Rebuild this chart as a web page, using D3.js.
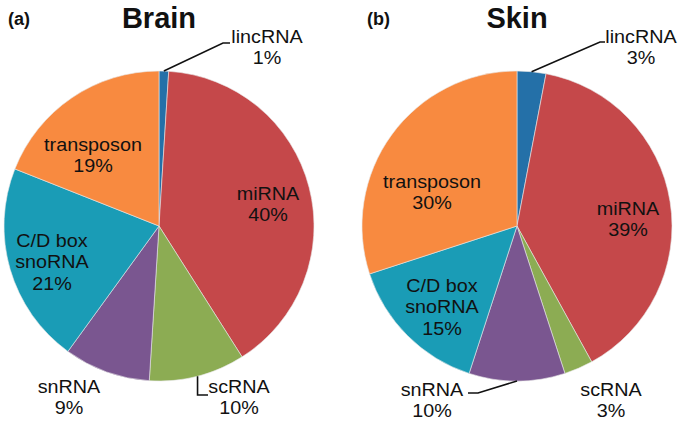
<!DOCTYPE html>
<html><head><meta charset="utf-8">
<script src="https://cdn.jsdelivr.net/npm/d3@7"></script>
<style>body{margin:0;background:#fff}svg{display:block}</style>
</head><body>
<svg id="c" width="683" height="422"></svg>
<script>
const categories = ["lincRNA","miRNA","scRNA","snRNA","C/D box snoRNA","transposon"];
const labelLines = [["lincRNA"],["miRNA"],["scRNA"],["snRNA"],["C/D box","snoRNA"],["transposon"]];
const brainValues = [1,40,10,9,21,19];
const skinValues = [3,39,3,10,15,30];
const colors = ["#2470a8","#c5484a","#8cac53","#7a5690","#1a9cb6","#f88a40"];

const svg = d3.select("#c");
const R = 155;
const sx = 1.13;

// layout: label positions (baseline of first line) relative to pie centre, and leader lines
const panels = [
  {tag:"(a)", tagX:8, title:"Brain", cx:159, cy:226, values:brainValues,
   labels:[[108,-183],[109,-26],[80,167],[-90,167],[-107,21],[-66,-75]],
   leaders:{0:[[64,-183],[71,-183]], 2:[[38,169],[49,169]]}},
  {tag:"(b)", tagX:367, title:"Skin", cx:517, cy:226, values:skinValues,
   labels:[[124,-183],[111,-11],[94,170],[-85,170],[-75,66],[-85,-38]],
   leaders:{0:[[83,-184],[88,-184]], 3:[[-39,167],[-49,167]]}}
];

const color = d3.scaleOrdinal().domain(categories).range(colors);

panels.forEach(p => {
  const g = svg.append("g").attr("transform",`translate(${p.cx},${p.cy})`);
  const pie = d3.pie().sort(null).value(d=>d.v);
  const arcs = pie(categories.map((c,i)=>({c, v:p.values[i], i})));
  const arc = d3.arc().innerRadius(0).outerRadius(R);
  g.selectAll("path").data(arcs).join("path")
    .attr("d",arc).attr("fill",d=>color(d.data.c))
    .attr("stroke","#e8e8e8").attr("stroke-width",0.6);

  arcs.forEach((a,i)=>{
    const [lx,ly] = p.labels[i];
    const lines = labelLines[i].concat([p.values[i]+"%"]);
    const t = g.append("text")
      .attr("transform",`translate(${lx},${ly}) scale(${sx},1)`)
      .attr("text-anchor","middle")
      .attr("font-family","Liberation Sans, Arial, sans-serif")
      .attr("font-size",17.5).attr("fill","#111");
    lines.forEach((l,k)=>t.append("tspan").attr("x",0).attr("dy",k?21.5:0).text(l));
    if (p.leaders[i]) {
      const mid = (a.startAngle+a.endAngle)/2;
      const s = [Math.sin(mid)*R, -Math.cos(mid)*R];
      const pts = [s].concat(p.leaders[i]);
      if (i===2 && p.title==="Brain") pts[1]=[s[0], pts[1][1]];
      g.append("path").attr("d",d3.line()(pts)).attr("fill","none")
        .attr("stroke","#111").attr("stroke-width",1.6);
    }
  });

  svg.append("text").attr("x",p.cx).attr("y",28).attr("text-anchor","middle")
    .attr("font-family","Liberation Sans, Arial, sans-serif").attr("font-weight","bold")
    .attr("font-size",29).attr("fill","#111").text(p.title);
  svg.append("text").attr("x",p.tagX).attr("y",25)
    .attr("font-family","Liberation Sans, Arial, sans-serif").attr("font-weight","bold")
    .attr("font-size",18).attr("fill","#111").text(p.tag);
});
</script>
</body></html>
